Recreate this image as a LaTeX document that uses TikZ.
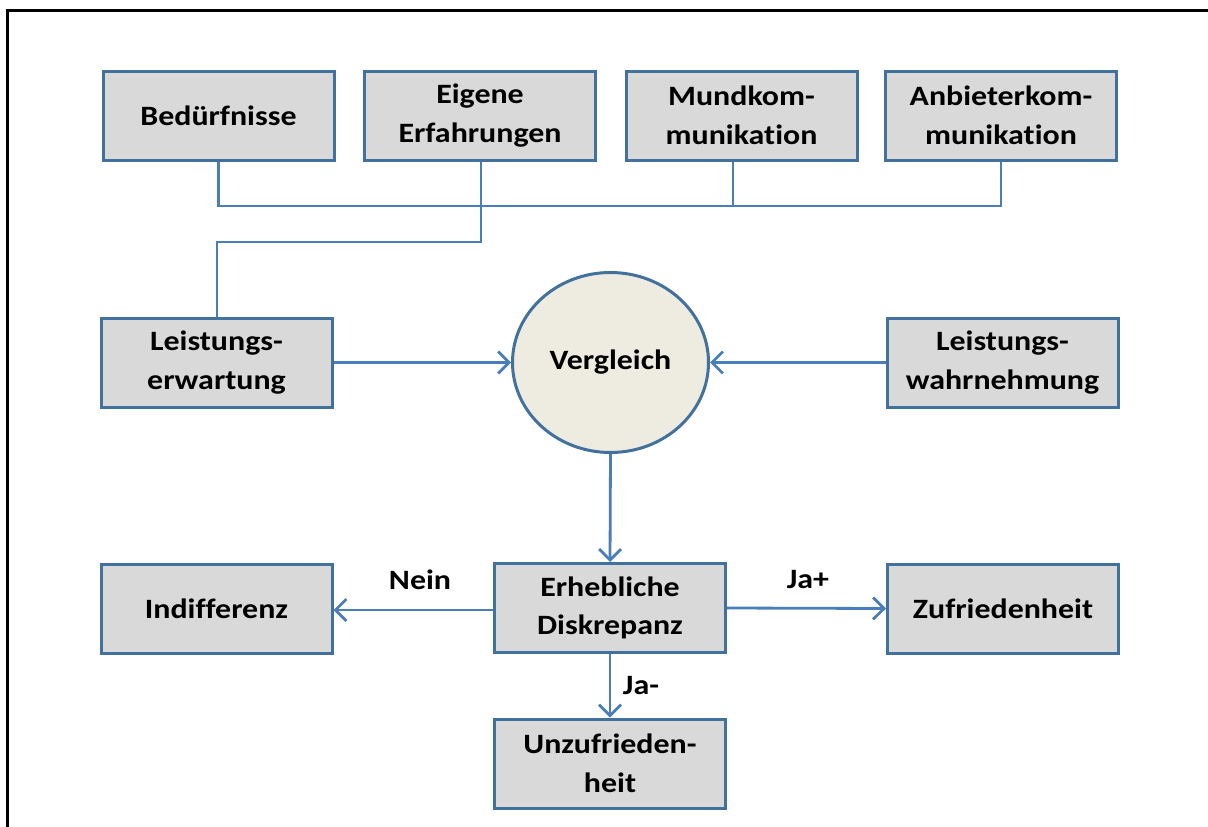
\documentclass[tikz,border=0pt]{standalone}
\usepackage{fontspec}
\setmainfont{Carlito}[Ligatures=NoCommon, FakeStretch=1.14]
\usetikzlibrary{positioning,arrows.meta,shapes.geometric}
\definecolor{randblau}{HTML}{41719C}
\definecolor{kastengrau}{HTML}{D9D9D9}
\definecolor{linienblau}{HTML}{4A7EBB}
\definecolor{kreisbeige}{HTML}{EEECE1}

\begin{document}
\begin{tikzpicture}[
	x=1pt,y=-1pt,
	kasten/.style={draw=randblau, fill=kastengrau, line width=3pt, minimum width=231pt, minimum height=89pt, inner sep=0pt, align=center, font=\fontsize{28}{38.5}\selectfont\bfseries},
	kreis/.style={ellipse, draw=randblau, fill=kreisbeige, line width=3pt, minimum width=196pt, minimum height=180pt, inner sep=0pt, font=\fontsize{28}{38.5}\selectfont\bfseries},
	linie/.style={draw=linienblau, line width=2.8pt},
	pfeil/.style={linie, -{Straight Barb[length=11pt,width=22pt,line width=2.8pt]}},
	marke/.style={font=\fontsize{28}{38.5}\selectfont\bfseries}
]
	\useasboundingbox (0,0) rectangle (1208,827);
	% frame
	\draw[line width=3pt] (7,827) -- (7,10) -- (1208,10);

	% top row
	\node[kasten] (Bed) at (218.5,115.5) {Bedürfnisse};
	\node[kasten] (Eig) at (480,115.5) {Eigene\\Erfahrungen};
	\node[kasten] (Mund) at (741.5,115.5) {Mundkom-\\munikation};
	\node[kasten] (Anb) at (1001,115.5) {Anbieterkom-\\munikation};

	% middle row
	\node[kasten] (Erw) at (216.5,362.5) {Leistungs-\\erwartung};
	\node[kreis] (Ver) at (610.5,362.5) {Vergleich};
	\node[kasten] (Wahr) at (1002.5,362.5) {Leistungs-\\wahrnehmung};

	% bottom rows
	\node[kasten] (Dis) at (610,608) {Erhebliche\\Diskrepanz};
	\node[kasten] (Ind) at (216.5,608.5) {Indifferenz};
	\node[kasten] (Zuf) at (1003,608.5) {Zufriedenheit};
	\node[kasten] (Unz) at (610,763.5) {Unzufrieden-\\heit};

	% sources
	\coordinate (Sammel) at (218.5,206);
	\coordinate (Knick) at (217,242);
	\draw[linie] (Bed.south) -- (Sammel) -- (Sammel -| Anb.south) -- (Anb.south);
	\draw[linie] (Mund.south -| 733,0) -- (Sammel -| 733,0);
	\draw[linie] (Eig.south -| 481,0) -- (Knick -| 481,0) -- (Knick) -- (Erw.north -| Knick);

	% comparison
	\draw[pfeil] (Erw.east) -- (Ver.west);
	\draw[pfeil] (Wahr.west) -- (Ver.east);
	\draw[pfeil] (Ver.south) -- (Dis.north);

	% outcomes
	\draw[pfeil] (Dis.west |- 0,610) -- (Ind.east |- 0,610);
	\draw[pfeil] (Dis.east) -- (Zuf.west);
	\draw[pfeil] (Dis.south) -- (Unz.north);
	\node[marke] (Nein) at (420,580) {Nein};
	\node[marke] (JaP) at (808,580) {Ja+};
	\node[marke] (JaM) at (641,686) {Ja-};
\end{tikzpicture}
\end{document}
